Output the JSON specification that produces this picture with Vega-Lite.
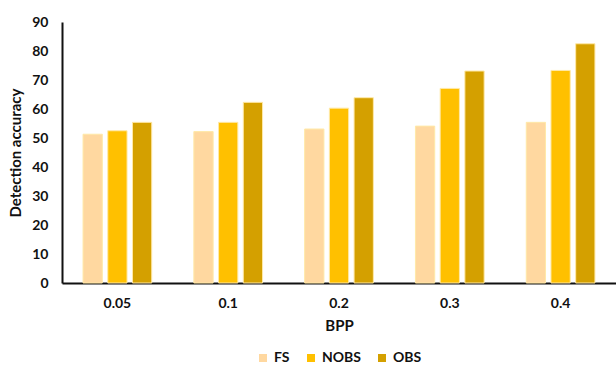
{
  "$schema": "https://vega.github.io/schema/vega-lite/v6.json",
  "width": 554,
  "height": 261,
  "autosize": "none",
  "padding": {"left": 62, "top": 22, "right": 0, "bottom": 82},
  "background": "white",
  "config": {
    "font": "Lato",
    "view": {"stroke": null},
    "legend": {"layout": {"bottom": {"anchor": "middle"}}}
  },
  "data": {
    "values": [
      {"bpp": "0.05", "method": "FS", "acc": 51.3},
      {"bpp": "0.05", "method": "NOBS", "acc": 52.5},
      {"bpp": "0.05", "method": "OBS", "acc": 55.4},
      {"bpp": "0.1", "method": "FS", "acc": 52.2},
      {"bpp": "0.1", "method": "NOBS", "acc": 55.4},
      {"bpp": "0.1", "method": "OBS", "acc": 62.3},
      {"bpp": "0.2", "method": "FS", "acc": 53.1},
      {"bpp": "0.2", "method": "NOBS", "acc": 60.3},
      {"bpp": "0.2", "method": "OBS", "acc": 63.9},
      {"bpp": "0.3", "method": "FS", "acc": 54.1},
      {"bpp": "0.3", "method": "NOBS", "acc": 67.1},
      {"bpp": "0.3", "method": "OBS", "acc": 73.1},
      {"bpp": "0.4", "method": "FS", "acc": 55.4},
      {"bpp": "0.4", "method": "NOBS", "acc": 73.3},
      {"bpp": "0.4", "method": "OBS", "acc": 82.5}
    ]
  },
  "mark": {"type": "bar", "stroke": "#FFE9A8", "strokeWidth": 1},
  "encoding": {
    "x": {
      "field": "bpp",
      "type": "ordinal",
      "sort": ["0.05", "0.1", "0.2", "0.3", "0.4"],
      "scale": {"paddingInner": 0.38, "paddingOuter": 0.19},
      "axis": {
        "title": "BPP",
        "labelAngle": 0,
        "labelFont": "Lato",
        "labelFontSize": 14,
        "labelFontWeight": "bold",
        "labelColor": "#111",
        "labelPadding": 13,
        "ticks": false,
        "domain": true,
        "domainColor": "#111",
        "domainWidth": 2,
        "titleFont": "Lato",
        "titleFontSize": 15,
        "titleFontWeight": "bold",
        "titleColor": "#111",
        "titlePadding": 8
      }
    },
    "xOffset": {
      "field": "method",
      "type": "nominal",
      "sort": ["FS", "NOBS", "OBS"],
      "scale": {"paddingInner": 0.22, "paddingOuter": 0}
    },
    "y": {
      "field": "acc",
      "type": "quantitative",
      "scale": {"domain": [0, 90], "nice": false},
      "axis": {
        "title": "Detection accuracy",
        "values": [0, 10, 20, 30, 40, 50, 60, 70, 80, 90],
        "grid": false,
        "ticks": false,
        "domainColor": "#111",
        "domainWidth": 2,
        "labelFont": "Lato",
        "labelFontSize": 14,
        "labelFontWeight": "bold",
        "labelColor": "#111",
        "labelPadding": 14,
        "titleFont": "Lato",
        "titleFontSize": 15,
        "titleFontWeight": "bold",
        "titleColor": "#111",
        "titlePadding": 8
      }
    },
    "color": {
      "field": "method",
      "type": "nominal",
      "sort": ["FS", "NOBS", "OBS"],
      "scale": {"domain": ["FS", "NOBS", "OBS"], "range": ["#FFD8A0", "#FFC000", "#D4A000"]},
      "legend": {
        "orient": "bottom",
        "direction": "horizontal",
        "title": null,
        "symbolType": "square",
        "symbolSize": 64,
        "symbolStrokeWidth": 0,
        "labelFont": "Lato",
        "labelFontSize": 14,
        "labelFontWeight": "bold",
        "labelColor": "#111",
        "columnPadding": 14,
        "offset": 18
      }
    }
  }
}
